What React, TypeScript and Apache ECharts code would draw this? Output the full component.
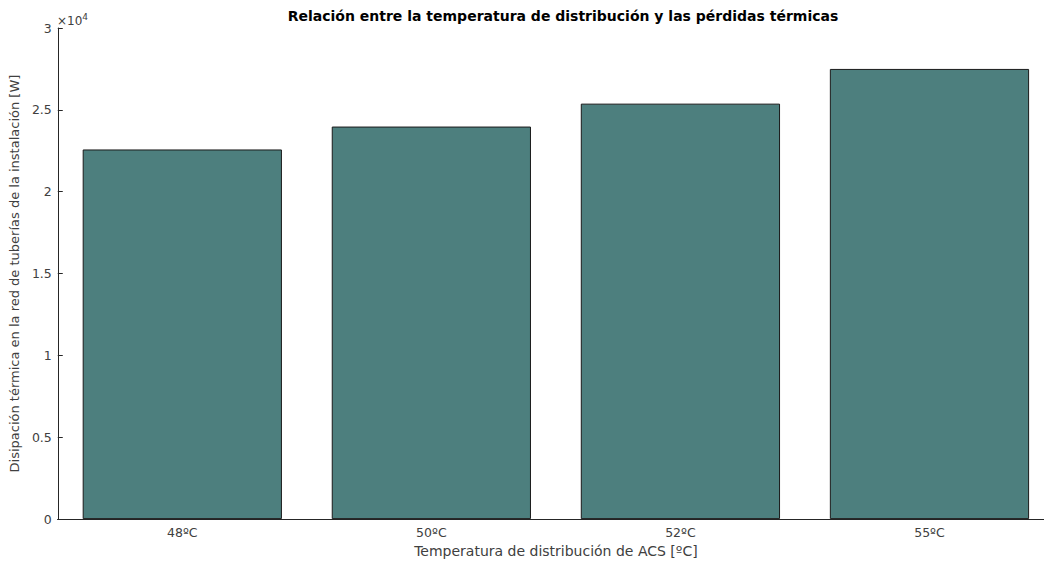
import React, { useEffect, useRef } from "react";
import * as echarts from "echarts";

const categories = ["48ºC", "50ºC", "52ºC", "55ºC"];
const heatLoss = [22580, 23980, 25380, 27500];
const yTicks = { min: 0, max: 30000, interval: 5000 };

const titleText = "Relación entre la temperatura de distribución y las pérdidas térmicas";
const xName = "Temperatura de distribución de ACS [ºC]";
const yName = "Disipación térmica en la red de tuberías de la instalación [W]";

const FONT = "DejaVu Sans";
const AXIS = "#262626";
const LABEL = "#404040";
const CHART_W = 1064;

export default function App() {
  const ref = useRef<HTMLDivElement>(null);
  useEffect(() => {
    if (!ref.current) return;
    const chart = echarts.init(ref.current, null, { renderer: "svg" });
    const tickStyle = { inside: true, length: 5, lineStyle: { color: AXIS, width: 1 } };
    chart.setOption({
      animation: false,
      backgroundColor: "#ffffff",
      textStyle: { fontFamily: FONT },
      title: {
        text: titleText,
        left: 563,
        top: 9,
        padding: 0,
        textAlign: "center",
        textStyle: { fontFamily: FONT, fontWeight: "bold", fontSize: 14, color: "#000" },
      },
      grid: { left: 57, right: CHART_W - 1054, top: 28, bottom: 42 },
      graphic: [
        {
          type: "text",
          left: 57,
          top: 12,
          style: {
            text: "×10{sup|4}",
            fill: LABEL,
            font: `12px "${FONT}"`,
            rich: {
              sup: { fontSize: 9, verticalAlign: "top", padding: [0, 0, 8, 0], fill: LABEL, fontFamily: FONT },
            },
          },
        },
      ],
      xAxis: [
        {
          type: "category",
          data: categories,
          position: "bottom",
          axisLine: { lineStyle: { color: AXIS, width: 1 } },
          axisTick: { ...tickStyle, alignWithLabel: true },
          axisLabel: { color: LABEL, fontSize: 12.5, fontFamily: FONT, margin: 7 },
          name: xName,
          nameLocation: "middle",
          nameGap: 23,
          nameTextStyle: { color: LABEL, fontSize: 14, fontFamily: FONT },
        },
        {
          type: "category",
          data: categories,
          position: "top",
          axisLine: { lineStyle: { color: AXIS, width: 1 } },
          axisTick: { ...tickStyle, alignWithLabel: true },
          axisLabel: { show: false },
        },
      ],
      yAxis: [
        {
          type: "value",
          min: yTicks.min,
          max: yTicks.max,
          interval: yTicks.interval,
          position: "left",
          splitLine: { show: false },
          axisLine: { show: true, lineStyle: { color: AXIS, width: 1 } },
          axisTick: { show: true, ...tickStyle },
          axisLabel: {
            color: LABEL,
            fontSize: 12.5,
            fontFamily: FONT,
            margin: 6,
            formatter: (v: number) => String(v / 10000),
          },
          name: yName,
          nameLocation: "middle",
          nameGap: 36,
          nameRotate: 90,
          nameTextStyle: { color: LABEL, fontSize: 13, fontFamily: FONT },
        },
        {
          type: "value",
          min: yTicks.min,
          max: yTicks.max,
          interval: yTicks.interval,
          position: "right",
          splitLine: { show: false },
          axisLine: { show: true, lineStyle: { color: AXIS, width: 1 } },
          axisTick: { show: true, ...tickStyle },
          axisLabel: { show: false },
        },
      ],
      series: [
        {
          type: "bar",
          data: heatLoss,
          barCategoryGap: "20%",
          itemStyle: { color: "#4d7f7e", borderColor: "#1a1a1a", borderWidth: 1 },
        },
      ],
    });
    return () => chart.dispose();
  }, []);
  return (
    <div style={{ position: "absolute", left: 0, top: 0, width: 1044, height: 563, overflow: "hidden", background: "#fff" }}>
      <div ref={ref} style={{ width: CHART_W, height: 563 }} />
    </div>
  );
}
